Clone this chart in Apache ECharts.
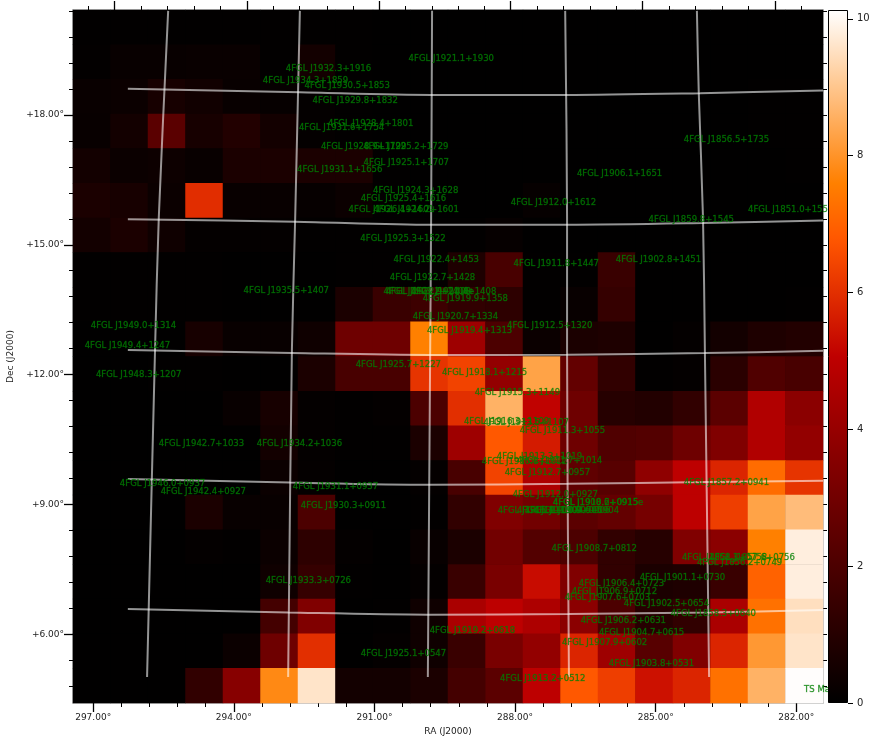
<!DOCTYPE html>
<html><head><meta charset="utf-8">
<style>html,body{margin:0;padding:0;background:#fff}#c{width:882px;height:746px}</style>
<script src="https://cdn.jsdelivr.net/npm/echarts@6/dist/echarts.min.js"></script>
</head><body><div id="c"></div>
<script>
// TS map cells, top row (north) to bottom row (south), left column (east) to right column (west)
const row01 = [.05,.05,.05,.05,.05,.05,.05,.05,.02,.02,.02,.02,.02,.02,.02,.02,.02,.02,.02,.02];
const row02 = [.08,.2,.2,.25,.25,.05,.5,.05,.02,.02,.02,.02,.02,.02,.02,.02,.02,.02,.02,.02];
const row03 = [.25,.3,.6,.45,.2,.15,.1,.05,.02,.02,.02,.02,.02,.02,.02,.02,.02,.02,.05,.05];
const row04 = [.2,.5,2.38,.6,.9,.5,.1,.05,.02,.02,.02,.02,.02,.02,.02,.02,.02,.02,.05,.05];
const row05 = [.5,.3,.35,.2,.7,.7,.7,.7,.05,.02,.02,.02,.02,.02,.02,.02,.02,.02,.02,.05];
const row06 = [.7,.6,.3,5.96,.2,.2,.15,.3,.05,.02,.02,.02,.15,.02,.02,.02,.02,.02,.02,.02];
const row07 = [.5,.7,.4,.1,.1,.1,.05,.05,.05,.05,.05,.15,.02,.02,.02,.02,.02,.02,.02,.02];
const row08 = [.05,.05,.05,.05,.02,.02,.02,.05,.05,.1,.8,1.9,.05,.05,1.5,.02,.02,.02,.02,.02];
const row09 = [.05,.05,.05,.05,.02,.02,.02,.7,1.5,1.6,1.3,1.2,.05,.2,1.4,.02,.02,.02,.02,.05];
const row10 = [.02,.02,.02,.6,.2,.2,.4,2.9,2.9,7.6,4.2,2.0,.3,.7,.8,.02,.1,.5,.8,.9];
const row11 = [.02,.02,.05,.05,.02,.02,.7,1.9,1.9,6.1,6.4,3.9,8.3,2.6,1.3,.05,.1,1.1,2.1,1.9];
const row12 = [.02,.02,.02,.02,.2,.6,.1,.05,.1,2.0,6.0,8.6,5.1,2.9,1.0,.9,1.3,2.4,4.7,3.7];
const row13 = [.02,.02,.02,.02,.02,.5,.1,.05,.05,.7,4.2,6.8,5.6,2.9,2.1,2.2,2.9,3.4,4.7,3.9];
const row14 = [.02,.02,.02,.02,.02,.3,.1,.02,.02,.1,1.9,6.4,4.6,2.5,2.3,3.8,5.0,5.8,7.2,6.1];
const row15 = [.02,.02,.02,.7,.2,.2,2.0,.02,.02,.05,1.3,3.4,3.0,2.4,2.6,3.1,5.0,6.3,8.3,8.8];
const row16 = [.02,.02,.02,.1,.05,.3,1.2,.1,.02,.2,.7,3.0,2.2,2.0,1.3,1.0,3.4,3.7,7.6,9.8];
const row17 = [.02,.02,.02,.02,.02,.4,1.4,.05,.02,.1,1.5,3.2,5.3,3.4,1.3,.7,.8,1.5,7.0,9.8];
const row18 = [.02,.02,.02,.02,.02,1.8,3.4,.02,.05,.4,4.5,5.0,4.6,3.7,2.0,1.0,1.3,4.5,7.3,9.5];
const row19 = [.02,.02,.02,.02,.3,2.9,6.0,.02,.1,.4,1.5,3.2,3.9,5.8,4.2,2.3,3.4,5.8,8.1,9.6];
const row20 = [.02,.02,.02,1.3,3.6,7.8,9.6,.5,.5,.7,1.8,2.4,5.0,6.8,6.3,5.4,5.8,7.3,8.6,10.1];
const tsRows = [row01,row02,row03,row04,row05,row06,row07,row08,row09,row10,row11,row12,row13,row14,row15,row16,row17,row18,row19,row20];
const tsMax = 10.13;

// axis ranges and ticks (degrees)
const raLeft = 297.43, raRight = 281.43, decTop = 20.42, decBottom = 4.42;
const raMajor = [297,294,291,288,285,282];
const raMinor = [297,296.4,295.8,295.2,294.6,294,293.4,292.8,292.2,291.6,291,290.4,289.8,289.2,288.6,288,287.4,286.8,286.2,285.6,285,284.4,283.8,283.2,282.6,282];
const raTopMajor = [296.555,293.72,290.9,288.11,285.29,282.45];
const raTopMinor = [297.11,296.555,295.98,295.42,294.85,294.29,293.72,293.16,292.61,292.01,291.46,290.9,290.35,289.77,289.22,288.66,288.11,287.53,286.98,286.4,285.85,285.29,284.71,284.16,283.59,283.03,282.45,281.9];
const decMajor = [18,15,12,9,6];
const decMinor = [20.4,19.8,19.2,18.6,18,17.4,16.8,16.2,15.6,15,14.4,13.8,13.2,12.6,12,11.4,10.8,10.2,9.6,9,8.4,7.8,7.2,6.6,6,5.4,4.8];
const cbarTicks = [0,2,4,6,8,10];

// coordinate grid curves [RA, Dec]
const meridian1 = [[295.40,20.40],[295.60,15.62],[295.68,12.57],[295.85,5.02]];
const meridian2 = [[292.59,20.40],[292.69,15.62],[292.76,12.57],[292.84,5.02]];
const meridian3 = [[289.77,20.40],[289.79,15.62],[289.81,12.57],[289.86,5.02]];
const meridian4 = [[286.93,20.40],[286.89,15.62],[286.89,12.57],[286.85,5.02]];
const meridian5 = [[284.12,20.40],[284.08,18.50],[283.99,15.62],[283.95,12.57],[283.86,5.02]];
const parallel1 = [[296.26,18.60],[292.59,18.52],[289.77,18.46],[286.93,18.46],[284.05,18.50],[281.43,18.56]];
const parallel2 = [[296.26,15.59],[292.69,15.53],[289.79,15.46],[286.89,15.46],[283.99,15.50],[281.43,15.56]];
const parallel3 = [[296.26,12.57],[292.76,12.50],[289.81,12.455],[286.89,12.46],[283.95,12.50],[281.43,12.55]];
const parallel4 = [[296.26,9.59],[292.80,9.51],[289.83,9.46],[286.87,9.48],[283.90,9.52],[281.43,9.55]];
const parallel5 = [[296.26,6.59],[292.84,6.51],[289.86,6.46],[286.85,6.475],[283.86,6.51],[281.43,6.57]];
const gridCurves = [meridian1,meridian2,meridian3,meridian4,meridian5,parallel1,parallel2,parallel3,parallel4,parallel5];

// source labels: name, label RA, label Dec
const sourceNames = ["4FGL J1932.3+1916","4FGL J1934.3+1859","4FGL J1930.5+1853","4FGL J1929.8+1832","4FGL J1921.1+1930","4FGL J1928.4+1801","4FGL J1931.6+1754","4FGL J1928.9+1729","4FGL J1925.2+1729","4FGL J1925.1+1707","4FGL J1931.1+1656","4FGL J1924.3+1628","4FGL J1925.4+1616","4FGL J1926.4+1601","4FGL J1924.2+1601","4FGL J1925.3+1522","4FGL J1922.4+1453","4FGL J1922.7+1428","4FGL J1923.2+1408e","4FGL J1922.9+1408","4FGL J1921.4+1408","4FGL J1919.9+1358","4FGL J1920.7+1334","4FGL J1919.4+1313","4FGL J1912.5+1320","4FGL J1911.8+1447","4FGL J1902.8+1451","4FGL J1912.0+1612","4FGL J1906.1+1651","4FGL J1856.5+1735","4FGL J1859.8+1545","4FGL J1851.0+1558","4FGL J1949.0+1314","4FGL J1949.4+1247","4FGL J1948.3+1207","4FGL J1935.5+1407","4FGL J1925.7+1227","4FGL J1918.1+1215","4FGL J1915.3+1149","4FGL J1916.3+1109","4FGL J1913.5+1107","4FGL J1911.3+1055","4FGL J1942.7+1033","4FGL J1934.2+1036","4FGL J1913.3+1019","4FGL J1916.8+1012","4FGL J1911.7+1014","4FGL J1912.7+0957","4FGL J1857.2+0941","4FGL J1946.0+0937","4FGL J1942.4+0927","4FGL J1931.1+0937","4FGL J1930.3+0911","4FGL J1912.0+0927","4FGL J1908.6+0915e","4FGL J1910.2+0915","4FGL J1915.1+0904","4FGL J1911.0+0905","4FGL J1910.9+0906","4FGL J1909.6+0904","4FGL J1908.7+0812","4FGL J1858.3+0758","4FGL J1857.6+0756","4FGL J1856.2+0749","4FGL J1901.1+0730","4FGL J1933.3+0726","4FGL J1906.4+0723","4FGL J1906.9+0712","4FGL J1907.6+0703","4FGL J1902.5+0654","4FGL J1858.3+0640","4FGL J1906.2+0631","4FGL J1919.2+0618","4FGL J1904.7+0615","4FGL J1907.9+0602","4FGL J1925.1+0547","4FGL J1903.8+0531","4FGL J1913.2+0512","TS Map"];
const sourceRa = [291.98,292.47,291.58,291.41,289.36,291.08,291.70,291.23,290.33,290.32,291.74,290.12,290.38,290.64,290.11,290.39,289.68,289.76,289.84,289.85,289.31,289.06,289.27,288.97,287.26,287.12,284.94,287.18,285.77,283.49,284.24,282.12,296.14,296.27,296.03,292.88,290.49,288.65,287.95,288.18,287.76,286.99,294.69,292.60,287.48,287.80,287.05,287.31,283.49,295.52,294.65,291.83,291.66,287.14,286.23,286.28,287.46,287.05,286.88,286.69,286.31,283.53,282.94,283.21,284.43,292.41,285.73,285.88,286.03,284.77,283.77,285.69,288.91,285.30,286.09,290.38,285.09,287.41,281.50];
const sourceDec = [19.09,18.81,18.70,18.35,19.31,17.82,17.73,17.29,17.29,16.92,16.76,16.27,16.09,15.84,15.84,15.16,14.68,14.26,13.94,13.94,13.94,13.78,13.36,13.03,13.16,14.59,14.68,15.99,16.66,17.45,15.60,15.83,13.16,12.69,12.02,13.97,12.25,12.06,11.61,10.94,10.92,10.73,10.43,10.43,10.13,10.02,10.04,9.76,9.53,9.51,9.32,9.44,9.00,9.25,9.07,9.07,8.88,8.88,8.88,8.88,8.01,7.80,7.80,7.68,7.34,7.27,7.20,7.01,6.87,6.74,6.51,6.34,6.11,6.07,5.84,5.58,5.35,5.00,4.75];

// gist_heat colour map
function heat(x){
  const c = v => Math.round(255*Math.max(0,Math.min(1,v)));
  return `rgb(${c(1.5*x)},${c(2*x-1)},${c(4*x-3)})`;
}
const heatSamples = Array.from({length:65},(_,i)=>heat(i/64));

const heatData = [];
tsRows.forEach((r,j)=>r.forEach((v,i)=>heatData.push([i,j,v])));
const idx = n => Array.from({length:n},(_,i)=>String(i));

const font = 'DejaVu Sans';
const frame = {show:true,onZero:false,lineStyle:{color:'#b0b0b0',width:1.5}};
const noLine = {show:false};
function raAxis(pos,ticks,len,labels,tw){
  return {type:'value',gridIndex:0,position:pos,inverse:true,min:raRight,max:raLeft,
    axisLine:labels?frame:noLine,splitLine:{show:false},
    axisTick:{lineStyle:{color:'#000',width:tw||1},show:true,length:len,customValues:ticks},
    axisLabel:labels?{show:true,customValues:raMajor,fontFamily:font,fontSize:9,color:'#222',margin:10,formatter:v=>v.toFixed(2)+'°'}:{show:false},
    name:labels&&pos==='bottom'?'RA (J2000)':'',nameLocation:'middle',nameGap:24,nameTextStyle:{fontFamily:font,fontSize:9,color:'#222'}};
}
function decAxis(pos,ticks,len,labels,tw){
  return {type:'value',gridIndex:0,position:pos,min:decBottom,max:decTop,
    axisLine:labels?frame:noLine,splitLine:{show:false},
    axisTick:{lineStyle:{color:'#000',width:tw||1},show:true,length:len,customValues:ticks},
    axisLabel:labels?{show:true,customValues:decMajor,fontFamily:font,fontSize:9,color:'#222',margin:9,padding:[5,0,0,0],formatter:v=>'+'+v.toFixed(2)+'°'}:{show:false},
    name:labels&&pos==='left'?'Dec (J2000)':'',nameLocation:'middle',nameGap:54,nameRotate:90,nameTextStyle:{fontFamily:font,fontSize:9,color:'#222'}};
}
const topFrame = {...raAxis('top',raTopMinor,4,false),axisLine:frame};
const rightFrame = {...decAxis('right',decMinor,4,false),axisLine:frame};

const option = {
  animation:false,
  backgroundColor:'#fff',
  grid:[
    {left:73,top:10,width:750,height:693,containLabel:false,outerBoundsMode:'none',show:true,backgroundColor:'#000',borderWidth:0},
    {left:828,top:10,width:20,height:693,containLabel:false,outerBoundsMode:'none'}
  ],
  xAxis:[
    {type:'category',gridIndex:0,data:idx(20),show:false},   // 0 heat cells
    raAxis('bottom',raMajor,9,true,1.3),                     // 1 RA
    raAxis('bottom',raMinor,4,false),                        // 2 RA minor ticks
    topFrame,                                                // 3 top minor ticks
    raAxis('top',raTopMajor,9,false,1.3),                    // 4 top major ticks
    {type:'category',gridIndex:1,data:['TS'],show:false}     // 5 colour bar
  ],
  yAxis:[
    {type:'category',gridIndex:0,data:idx(20),inverse:true,show:false},
    decAxis('left',decMajor,9,true,1.3),
    decAxis('left',decMinor,4,false),
    rightFrame,
    {type:'value',gridIndex:1,position:'right',min:0,max:tsMax,
      axisLine:{show:false},splitLine:{show:false},
      axisTick:{show:true,length:5,customValues:cbarTicks,lineStyle:{color:'#000',width:1}},
      axisLabel:{show:true,customValues:cbarTicks,fontFamily:font,fontSize:10,color:'#222',margin:9,align:'left',padding:[5,0,0,0]}}
  ],
  visualMap:{show:false,type:'continuous',seriesIndex:0,min:0,max:tsMax,inRange:{color:heatSamples}},
  series:[
    {type:'heatmap',xAxisIndex:0,yAxisIndex:0,data:heatData,silent:true,z:1,progressive:0,itemStyle:{borderWidth:0}},
    ...gridCurves.map(d=>({type:'line',xAxisIndex:1,yAxisIndex:1,data:d,symbol:'none',smooth:0.3,silent:true,z:3,
      lineStyle:{color:'rgba(255,255,255,0.58)',width:2}})),
    {type:'scatter',xAxisIndex:1,yAxisIndex:1,silent:true,z:4,symbolSize:1,itemStyle:{color:'transparent'},
      data:sourceNames.map((n,i)=>({name:n,value:[sourceRa[i],sourceDec[i]]})),
      label:{show:true,position:'inside',offset:[0,1],formatter:p=>p.name,fontFamily:font,fontSize:8.5,color:'#008000',
        textBorderColor:'rgba(0,128,0,0.55)',textBorderWidth:0.5}},
    {type:'bar',xAxisIndex:5,yAxisIndex:4,data:[tsMax],barWidth:'100%',silent:true,z:9,
      itemStyle:{borderColor:'#000',borderWidth:1,
        color:new echarts.graphic.LinearGradient(0,1,0,0,heatSamples.map((c,i)=>({offset:i/64,color:c})))}}
  ]
};
echarts.init(document.getElementById('c'),null,{renderer:'canvas'}).setOption(option);
</script></body></html>
